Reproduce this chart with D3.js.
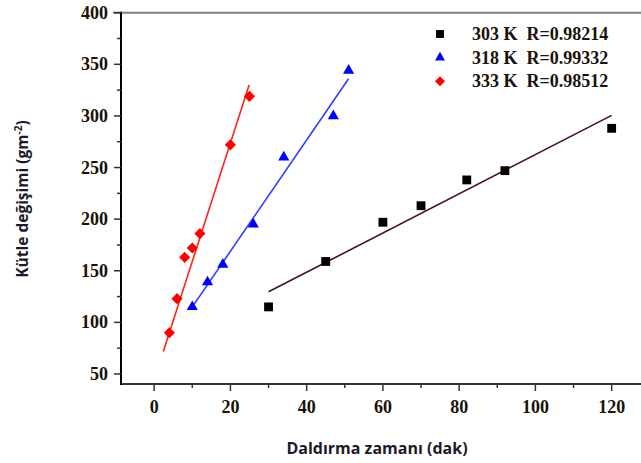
<!DOCTYPE html>
<html>
<head>
<meta charset="utf-8">
<script src="https://cdn.jsdelivr.net/npm/d3@7"></script>
<style>
  body { margin: 0; background: #fff; }
  svg { display: block; }
</style>
</head>
<body>
<svg id="chart" width="641" height="463"></svg>
<script>

// data
let time303 = [30, 45, 60, 70, 82, 92, 120];
let mass303 = [115, 159, 197, 213, 238, 247, 288];
let time318 = [10, 14, 18, 26, 34, 47, 51];
let mass318 = [115, 139, 156, 195, 260, 300, 344];
let time333 = [4, 6, 8, 10, 12, 20, 25];
let mass333 = [90, 123, 163, 172, 186, 272, 319];

// fitted lines, start and end [time, mass]
let fit303 = [[30, 129.6], [120, 300.5]];
let fit318 = [[10, 115], [51, 336]];
let fit333 = [[2.4, 71.9], [24.9, 330]];

let legendLabels = ["303 K  R=0.98214", "318 K  R=0.99332", "333 K  R=0.98512"];
let xTicks = [0, 20, 40, 60, 80, 100, 120];
let yTicks = [50, 100, 150, 200, 250, 300, 350, 400];

let svg = d3.select("#chart");
let position = { left: 121, top: 12.7, right: 641, bottom: 384 };

let x = d3.scaleLinear()
            .domain([-8.7, 127.7])
            .range([position.left, position.right]);

let y = d3.scaleLinear()
            .domain([40.3, 400])
            .range([position.bottom, position.top]);

let series = [
    { t: time303, m: mass303, fit: fit303, color: "#000000", line: "#4a1212", sym: "square" },
    { t: time318, m: mass318, fit: fit318, color: "#0000ff", line: "#2f3dff", sym: "triangle" },
    { t: time333, m: mass333, fit: fit333, color: "#ff0000", line: "#ff2020", sym: "diamond" }
];

function symbolPath(kind, scale) {
    if (kind == "square") return d3.symbol(d3.symbolSquare, 78 * scale)();
    if (kind == "triangle") return d3.symbol(d3.symbolTriangle, 54 * scale)();
    return d3.symbol(d3.symbolSquare, 62 * scale)();
}
function symbolRot(kind) { return kind == "diamond" ? " rotate(45)" : ""; }

let tickFont = "'Liberation Serif', 'Times New Roman', serif";
let titleFont = "'Open Sans', 'Noto Sans', sans-serif";

// top border (grey)
svg.append("line")
    .attr("x1", position.left - 8).attr("x2", position.right)
    .attr("y1", y(400)).attr("y2", y(400))
    .style("stroke", "#808080").style("stroke-width", 2);

// x axis
let xAxis = svg.append("g")
    .attr("transform", "translate(0," + position.bottom + ")");
xAxis.append("line")
    .attr("x1", position.left - 1).attr("x2", position.right)
    .style("stroke", "#333").style("stroke-width", 2);
xAxis.selectAll(".minor")
    .data(d3.range(10, 130, 20))
    .enter().append("line")
      .attr("x1", d => x(d)).attr("x2", d => x(d))
      .attr("y1", 0).attr("y2", 4)
      .style("stroke", "#333").style("stroke-width", 1.5);
xAxis.selectAll(".major")
    .data(xTicks)
    .enter().append("line")
      .attr("x1", d => x(d)).attr("x2", d => x(d))
      .attr("y1", 0).attr("y2", 7)
      .style("stroke", "#333").style("stroke-width", 1.5);
xAxis.selectAll("text")
    .data(xTicks)
    .enter().append("text")
      .attr("x", d => x(d))
      .attr("y", 29)
      .attr("text-anchor", "middle")
      .style("font-family", tickFont)
      .style("font-weight", "bold")
      .style("font-size", "18px")
      .style("fill", "#1a1208")
      .text(d => d);

// y axis
let yAxis = svg.append("g")
    .attr("transform", "translate(" + position.left + ",0)");
yAxis.append("line")
    .attr("y1", position.top - 1).attr("y2", position.bottom + 1)
    .style("stroke", "#000").style("stroke-width", 2);
yAxis.selectAll(".minor")
    .data(d3.range(75, 400, 50))
    .enter().append("line")
      .attr("y1", d => y(d)).attr("y2", d => y(d))
      .attr("x1", 0).attr("x2", -4)
      .style("stroke", "#333").style("stroke-width", 1.5);
yAxis.selectAll(".major")
    .data(yTicks)
    .enter().append("line")
      .attr("y1", d => y(d)).attr("y2", d => y(d))
      .attr("x1", 0).attr("x2", -7)
      .style("stroke", "#333").style("stroke-width", 1.5);
yAxis.selectAll("text")
    .data(yTicks)
    .enter().append("text")
      .attr("x", -13)
      .attr("y", d => y(d) + 6)
      .attr("text-anchor", "end")
      .style("font-family", tickFont)
      .style("font-weight", "bold")
      .style("font-size", "18px")
      .style("fill", "#1a1208")
      .text(d => d);

// fit lines
let line = d3.line().x(d => x(d[0])).y(d => y(d[1]));
svg.append("g")
    .selectAll("path")
    .data(series)
    .enter().append("path")
      .attr("d", d => line(d.fit))
      .style("fill", "none")
      .style("stroke", d => d.line)
      .style("stroke-width", 1.6);

// points
series.forEach(function(s) {
    svg.append("g")
        .selectAll("path")
        .data(d3.range(s.t.length))
        .enter().append("path")
          .attr("d", symbolPath(s.sym, 1))
          .attr("transform", i => "translate(" + x(s.t[i]) + "," + y(s.m[i]) + ")" + symbolRot(s.sym))
          .style("fill", s.color);
});

// legend
let legend = svg.append("g");
legend.selectAll("path")
    .data(series)
    .enter().append("path")
      .attr("d", d => symbolPath(d.sym, 0.8))
      .attr("transform", (d, i) => "translate(440," + (34 + i * 23.6) + ")" + symbolRot(d.sym))
      .style("fill", d => d.color);
legend.selectAll("text")
    .data(legendLabels)
    .enter().append("text")
      .attr("x", 472)
      .attr("y", (d, i) => 40 + i * 23.6)
      .attr("xml:space", "preserve")
      .style("white-space", "pre")
      .style("font-family", tickFont)
      .style("font-weight", "bold")
      .style("font-size", "18px")
      .style("fill", "#1a1208")
      .text(d => d);

// axis titles
svg.append("text")
    .attr("x", 377)
    .attr("y", 454)
    .attr("text-anchor", "middle")
    .style("font-family", titleFont)
    .style("font-weight", "bold")
    .style("font-size", "16px")
    .style("fill", "#1c1a2a")
    .text("Daldırma zamanı (dak)");

let yTitle = svg.append("text")
    .attr("transform", "translate(28,199) rotate(-90)")
    .attr("text-anchor", "middle")
    .style("font-family", titleFont)
    .style("font-weight", "bold")
    .style("font-size", "15.5px")
    .style("fill", "#1c1a2a");
yTitle.append("tspan").text("Kütle değişimi (gm");
yTitle.append("tspan").attr("dy", -6).style("font-size", "10px").text("-2");
yTitle.append("tspan").attr("dy", 6).text(")");

</script>
</body>
</html>
